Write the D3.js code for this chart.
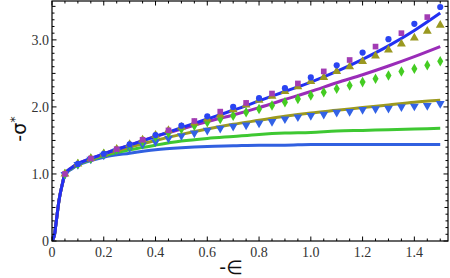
<!DOCTYPE html>
<html>
<head>
<meta charset="utf-8">
<script src="https://cdn.jsdelivr.net/npm/d3@7"></script>
<style>
  body { margin: 0; background: #fff; }
  .ticklabel { font-family: "Liberation Serif", "DejaVu Serif", serif; font-size: 14px; fill: #333; }
  .axislabel { font-family: "DejaVu Sans", "Liberation Sans", sans-serif; font-size: 19px; fill: #111; }
</style>
</head>
<body>
<script>
// model curves, sampled at lineX
var lineX = [0, 0.01, 0.015, 0.02, 0.025, 0.03, 0.04, 0.05, 0.075, 0.1, 0.15, 0.2, 0.3, 0.4, 0.5, 0.6, 0.7, 0.8, 0.9, 1.0, 1.1, 1.2, 1.3, 1.4, 1.5];
var topBlueLine = [0, 0.1, 0.25, 0.4, 0.55, 0.67, 0.85, 1.0, 1.09, 1.15, 1.23, 1.30, 1.43, 1.56, 1.69, 1.82, 1.95, 2.09, 2.23, 2.37, 2.53, 2.71, 2.91, 3.14, 3.40];
var purpleLine = [0, 0.1, 0.25, 0.4, 0.55, 0.67, 0.85, 1.0, 1.09, 1.15, 1.23, 1.30, 1.43, 1.56, 1.67, 1.78, 1.88, 1.99, 2.11, 2.23, 2.36, 2.48, 2.61, 2.75, 2.90];
var oliveLine = [0, 0.1, 0.25, 0.4, 0.55, 0.67, 0.85, 1.0, 1.09, 1.15, 1.22, 1.29, 1.40, 1.50, 1.59, 1.67, 1.74, 1.80, 1.86, 1.91, 1.95, 1.99, 2.03, 2.07, 2.10];
var greenLine = [0, 0.1, 0.25, 0.4, 0.55, 0.67, 0.85, 1.0, 1.08, 1.14, 1.21, 1.27, 1.36, 1.43, 1.49, 1.53, 1.56, 1.59, 1.61, 1.62, 1.64, 1.65, 1.66, 1.67, 1.68];
var lowBlueLine = [0, 0.1, 0.25, 0.4, 0.55, 0.67, 0.85, 1.0, 1.07, 1.13, 1.20, 1.25, 1.31, 1.36, 1.39, 1.41, 1.42, 1.43, 1.43, 1.44, 1.44, 1.44, 1.44, 1.44, 1.44];

// data points, at pointX
var pointX = [0.05, 0.1, 0.15, 0.2, 0.25, 0.3, 0.35, 0.4, 0.45, 0.5, 0.55, 0.6, 0.65, 0.7, 0.75, 0.8, 0.85, 0.9, 0.95, 1.0, 1.05, 1.1, 1.15, 1.2, 1.25, 1.3, 1.35, 1.4, 1.45, 1.5];
var topPoints = [1.00, 1.15, 1.23, 1.30, 1.37, 1.44, 1.51, 1.58, 1.65, 1.72, 1.79, 1.86, 1.93, 2.00, 2.06, 2.13, 2.20, 2.28, 2.35, 2.44, 2.53, 2.62, 2.70, 2.81, 2.90, 3.01, 3.10, 3.24, 3.34, 3.49];
var olivePoints = [1.00, 1.15, 1.23, 1.30, 1.37, 1.44, 1.51, 1.58, 1.65, 1.70, 1.76, 1.82, 1.88, 1.96, 2.03, 2.10, 2.16, 2.23, 2.30, 2.38, 2.44, 2.53, 2.60, 2.68, 2.76, 2.85, 2.94, 3.03, 3.13, 3.22];
var greenPoints = [1.00, 1.15, 1.23, 1.30, 1.36, 1.42, 1.49, 1.55, 1.61, 1.67, 1.72, 1.77, 1.82, 1.87, 1.92, 1.97, 2.02, 2.07, 2.12, 2.17, 2.22, 2.27, 2.32, 2.37, 2.42, 2.47, 2.53, 2.57, 2.62, 2.68];
var bluePoints = [0.99, 1.14, 1.22, 1.28, 1.34, 1.39, 1.44, 1.48, 1.53, 1.57, 1.61, 1.65, 1.68, 1.71, 1.73, 1.76, 1.78, 1.82, 1.85, 1.87, 1.89, 1.92, 1.93, 1.96, 1.97, 1.98, 2.00, 2.01, 2.02, 2.05];

var xTicks = [0, 0.2, 0.4, 0.6, 0.8, 1.0, 1.2, 1.4];
var xTickLabels = ["0", "0.2", "0.4", "0.6", "0.8", "1.0", "1.2", "1.4"];
var yTicks = [0, 1, 2, 3];
var yTickLabels = ["0", "1.0", "2.0", "3.0"];

function makeChart() {
  var width = 450, height = 278;
  var left = 52, right = 448, top = 1, bottom = 241;

  var svg = d3.select("body").append("svg")
              .attr("width", width)
              .attr("height", height);

  var x = d3.scaleLinear().domain([0, 1.53]).range([left, right]);
  var y = d3.scaleLinear().domain([0, 3.58]).range([bottom, top]);

  svg.append("clipPath").attr("id", "clip")
     .append("rect")
       .attr("x", left).attr("y", top)
       .attr("width", right - left).attr("height", bottom - top);

  var plot = svg.append("g").attr("clip-path", "url(#clip)");

  // lines
  var lines = [
    {vals: lowBlueLine, color: "#3160e0"},
    {vals: greenLine, color: "#3ec832"},
    {vals: oliveLine, color: "#9c9a20"},
    {vals: purpleLine, color: "#9a2cb8"},
    {vals: topBlueLine, color: "#2230f2"}
  ];
  var line = d3.line()
               .x(function(d) { return x(d[0]); })
               .y(function(d) { return y(d[1]); })
               .curve(d3.curveMonotoneX);

  lines.forEach(function(l) {
    plot.append("path")
        .datum(d3.zip(lineX, l.vals))
        .attr("d", line)
        .attr("fill", "none")
        .attr("stroke", l.color)
        .attr("stroke-width", 3)
        .attr("stroke-linejoin", "round");
  });

  // markers
  function drawPoints(vals, shape, size, color, rotate, keep) {
    var pts = d3.zip(pointX, vals).filter(function(d, i) { return keep(i); });
    plot.selectAll(null)
        .data(pts)
        .enter().append("path")
          .attr("d", d3.symbol().type(shape).size(size))
          .attr("transform", function(d) {
            return "translate(" + x(d[0]) + "," + y(d[1]) + ") rotate(" + rotate + ")";
          })
          .attr("fill", color);
  }
  var all = function(i) { return true; };
  drawPoints(bluePoints, d3.symbolTriangle, 34, "#3262e6", 180, all);
  drawPoints(greenPoints, d3.symbolDiamond, 32, "#44cc22", 0, all);
  drawPoints(olivePoints, d3.symbolTriangle, 34, "#9a9820", 0, all);
  drawPoints(topPoints, d3.symbolSquare, 32, "#a23cb4", 0, function(i) { return i % 2 === 0; });
  drawPoints(topPoints, d3.symbolCircle, 30, "#2a44f2", 0, function(i) { return i % 2 === 1; });

  // frame and ticks
  var frame = svg.append("g").attr("stroke", "#000");
  frame.append("rect")
       .attr("x", left).attr("y", top)
       .attr("width", right - left).attr("height", bottom - top)
       .attr("fill", "none")
       .attr("stroke-width", 1.2);

  d3.range(0, 1.531, 0.05).forEach(function(v, i) {
    var len = (i % 4 === 0) ? 4.5 : 2.5;
    var px = x(v);
    frame.append("line").attr("x1", px).attr("x2", px).attr("y1", bottom).attr("y2", bottom - len);
    frame.append("line").attr("x1", px).attr("x2", px).attr("y1", top).attr("y2", top + len);
  });
  d3.range(0, 3.581, 0.1).forEach(function(v, i) {
    var len = (i % 10 === 0) ? 4.5 : (i % 5 === 0 ? 3.5 : 2.5);
    var py = y(v);
    frame.append("line").attr("x1", left).attr("x2", left + len).attr("y1", py).attr("y2", py);
    frame.append("line").attr("x1", right).attr("x2", right - len).attr("y1", py).attr("y2", py);
  });

  // tick labels
  svg.selectAll(".xl")
     .data(xTicks)
     .enter().append("text")
       .attr("class", "ticklabel")
       .attr("x", function(d) { return x(d); })
       .attr("y", bottom + 16)
       .attr("text-anchor", "middle")
       .text(function(d, i) { return xTickLabels[i]; });

  svg.selectAll(".yl")
     .data(yTicks)
     .enter().append("text")
       .attr("class", "ticklabel")
       .attr("x", left - 3)
       .attr("y", function(d) { return y(d) + 5; })
       .attr("text-anchor", "end")
       .text(function(d, i) { return yTickLabels[i]; });

  // axis labels
  svg.append("text")
     .attr("class", "axislabel")
     .attr("x", 231)
     .attr("y", 274)
     .attr("text-anchor", "middle")
     .text("-\u2208");

  svg.append("text")
     .attr("class", "axislabel")
     .attr("transform", "translate(26,129) rotate(-90)")
     .attr("text-anchor", "middle")
     .html("-\u03c3<tspan dy='-7' font-size='13'>*</tspan>");
}

window.onload = function() {
  makeChart();
};
</script>
</body>
</html>
